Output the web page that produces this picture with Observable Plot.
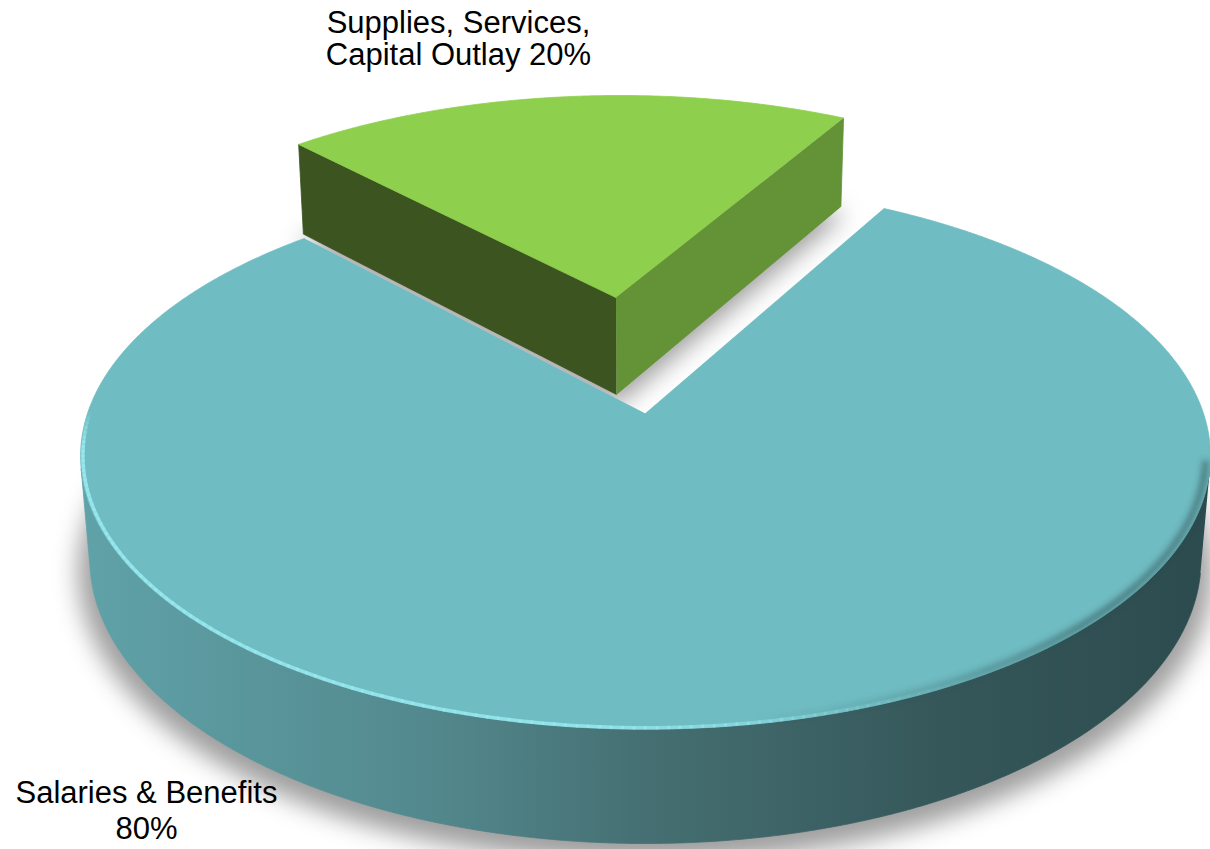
<!DOCTYPE html>
<html>
<head>
<meta charset="utf-8">
<script src="https://cdn.jsdelivr.net/npm/d3@7"></script>
<script src="https://cdn.jsdelivr.net/npm/@observablehq/plot@0.6"></script>
<style>
  html, body { margin: 0; padding: 0; background: #ffffff; }
  #chart svg { display: block; }
</style>
</head>
<body>
<div id="chart"></div>
<script>
// ---------------- data ----------------
const categories = ["Salaries & Benefits", "Supplies, Services, Capital Outlay"];
const shares = [80, 20];
const labelTexts = ["Salaries & Benefits\n80%", "Supplies, Services,\nCapital Outlay 20%"];
const explode = [0, 0.47];
const topColors = ["#6fbcc2", "#8ecf4e"];
const startFaceColors = ["#3f7377", "#3c5420"];
const endFaceColors = ["#3f7377", "#649237"];
const wallColors = ["#456f72", "#5a8a30"];

// ---------------- layout / view ----------------
const W = 1210, H = 849;
const deg = Math.PI / 180;
const view = {
  cx: 645, cy: 413,       // pixel position of the pie centre
  ax: 558, ay: 577.6,     // pixels per projected unit
  s: 0.4613,              // sin(elevation)
  D: 5.687,               // camera distance (pie radius = 1)
  thick: 0.202,           // pie thickness
  startDeg: 29.07         // angle of first slice
};
view.k = Math.sqrt(1 - view.s * view.s);
const labelPolar = [{deg: 211.04, r: 1.408}, {deg: -13.4, r: 1.853}];
const labelLineHeights = [1.18, 1.05];

function proj(X, Y, Z) {
  const w = 1 + (Y * view.k - Z * view.s) / view.D;
  return {x: X / w, y: (Y * view.s + Z * view.k) / w};
}
const camY = -view.D * view.k;

const T = view.thick;
const arcs = d3.pie().sort(null)
  .startAngle(view.startDeg * deg)
  .endAngle(view.startDeg * deg + 2 * Math.PI)(shares);

const slices = arcs.map((a, i) => {
  const mid = (a.startAngle + a.endAngle) / 2;
  const ox = explode[i] * Math.sin(mid), oy = explode[i] * Math.cos(mid);
  const n = Math.max(16, Math.ceil((a.endAngle - a.startAngle) / deg * 3));
  const thetas = d3.range(n + 1).map(j => a.startAngle + (a.endAngle - a.startAngle) * j / n);
  const rim = (th, Z, r = 1) => proj(ox + r * Math.sin(th), oy + r * Math.cos(th), Z);
  const top = [proj(ox, oy, 0), ...thetas.map(th => rim(th, 0))];
  const bottom = [proj(ox, oy, -T), ...thetas.map(th => rim(th, -T, 1.02))];
  // outer wall: front-facing part
  const facing = th => (-(ox * Math.sin(th)) + (camY - oy) * Math.cos(th) - 1) > 0;
  const vis = thetas.filter(facing);
  const wall = vis.length > 1
    ? [...vis.map(th => rim(th, 0)), ...vis.slice().reverse().map(th => rim(th, -T))]
    : null;
  const a0 = a.startAngle, a1 = a.endAngle;
  // (camera - centre) . outward normal of each cut face
  const startVisible = ox * Math.cos(a0) + (camY - oy) * Math.sin(a0) > 0;
  const endVisible = -ox * Math.cos(a1) - (camY - oy) * Math.sin(a1) > 0;
  const face = th => [proj(ox, oy, 0), rim(th, 0), rim(th, -T), proj(ox, oy, -T)];
  return {
    i, mid, ox, oy, rim, top, bottom, wall,
    startFace: startVisible ? face(a0) : null,
    endFace: endVisible ? face(a1) : null,
    depth: Math.cos(mid) * explode[i]
  };
});

// ---------------- marks ----------------
const marks = [];
const poly = (pts, fill, extra = {}) =>
  Plot.line(pts, {x: "x", y: "y", fill, stroke: fill, strokeWidth: 0.8, strokeLinejoin: "round", ...extra});

// shadow
const shadowPts = slices.flatMap(sl => sl.bottom.map(p => ({...p, id: sl.i})));
marks.push(Plot.line(shadowPts, {x: "x", y: "y", z: "id", fill: "#000", fillOpacity: 0.38, stroke: "none", dy: 11, ariaDescription: "shadow"}));

// slices from far to near
[...slices].sort((a, b) => b.depth - a.depth).forEach(sl => {
  if (sl.startFace) marks.push(poly(sl.startFace, startFaceColors[sl.i]));
  if (sl.endFace) marks.push(poly(sl.endFace, endFaceColors[sl.i]));
  if (sl.wall) marks.push(poly(sl.wall, wallColors[sl.i], sl.i === 0 ? {ariaDescription: "wall"} : {}));
  marks.push(poly(sl.top, topColors[sl.i]));
});

// bevel highlight along the front rim of the large slice
const big = slices[0];
const segs = [];
for (let d = 148; d < 270; d += 1) {
  const p = big.rim(d * deg, 0, 0.996), q = big.rim((d + 1) * deg, 0, 0.996);
  const op = d < 185 ? 0.85 * (d - 148) / 37 : d > 262 ? 0.85 * (270 - d) / 8 : 0.85;
  segs.push({x1: p.x, y1: p.y, x2: q.x, y2: q.y, op});
}
marks.push(Plot.link(segs, {x1: "x1", y1: "y1", x2: "x2", y2: "y2", stroke: "#98e8ee", strokeWidth: 3.5, strokeOpacity: "op", strokeLinecap: "round"}));

// dark soft edge on the right front rim
const darkSegs = [];
for (let d = 100; d < 170; d += 1) {
  const p = big.rim(d * deg, 0, 0.992), q = big.rim((d + 1) * deg, 0, 0.992);
  const op = d < 135 ? 0.6 : 0.6 * (170 - d) / 35;
  darkSegs.push({x1: p.x, y1: p.y, x2: q.x, y2: q.y, op});
}
marks.push(Plot.link(darkSegs, {x1: "x1", y1: "y1", x2: "x2", y2: "y2", stroke: "#2b4a4d", strokeWidth: 6, strokeOpacity: "op", ariaDescription: "darkedge"}));

// labels
labelTexts.forEach((t, i) => {
  const lp = labelPolar[i];
  const p = proj(lp.r * Math.sin(lp.deg * deg), lp.r * Math.cos(lp.deg * deg), 0);
  marks.push(Plot.text([{...p, text: t}], {
    x: "x", y: "y", text: "text", fontSize: 31, fill: "#000",
    fontFamily: "'Liberation Sans', Arial, Helvetica, sans-serif",
    textAnchor: "middle", lineHeight: labelLineHeights[i]
  }));
});

const svg = Plot.plot({
  width: W, height: H,
  margin: 0,
  x: {axis: null, domain: [-view.cx / view.ax, (W - view.cx) / view.ax]},
  y: {axis: null, domain: [-(H - view.cy) / view.ay, view.cy / view.ay]},
  style: {background: "#ffffff", overflow: "hidden"},
  marks
});

// gradients & blur filters
const defs = document.createElementNS("http://www.w3.org/2000/svg", "defs");
defs.innerHTML = `
  <linearGradient id="wallGrad" gradientUnits="userSpaceOnUse" x1="85" y1="0" x2="1210" y2="0">
    <stop offset="0" stop-color="#5fa2a8"/>
    <stop offset="0.3" stop-color="#53898e"/>
    <stop offset="0.5" stop-color="#456f72"/>
    <stop offset="0.75" stop-color="#36585b"/>
    <stop offset="1" stop-color="#2c4b4e"/>
  </linearGradient>
  <filter id="softShadow" x="-20%" y="-30%" width="140%" height="160%">
    <feGaussianBlur stdDeviation="12"/>
  </filter>
  <filter id="softEdge" x="-10%" y="-10%" width="120%" height="120%">
    <feGaussianBlur stdDeviation="3"/>
  </filter>`;
svg.insertBefore(defs, svg.firstChild);
svg.querySelectorAll('g[aria-description="shadow"]').forEach(g => g.setAttribute("filter", "url(#softShadow)"));
svg.querySelectorAll('g[aria-description="darkedge"]').forEach(g => g.setAttribute("filter", "url(#softEdge)"));
svg.querySelectorAll('g[aria-description="wall"]').forEach(g => {
  g.setAttribute("fill", "url(#wallGrad)");
  g.setAttribute("stroke", "url(#wallGrad)");
  g.querySelectorAll("path").forEach(p => { p.setAttribute("fill", "url(#wallGrad)"); p.setAttribute("stroke", "url(#wallGrad)"); });
});

document.getElementById("chart").appendChild(svg);
</script>
</body>
</html>
